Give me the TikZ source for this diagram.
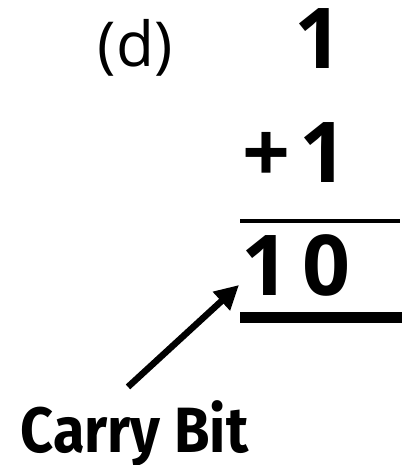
\documentclass[tikz,border=0pt]{standalone}
\usepackage{fontspec}
\setmainfont{Open Sans}
\newfontfamily\carryfont[FakeStretch=0.9]{Fira Sans}
\usetikzlibrary{arrows.meta,positioning,calc}
\tikzset{
  digit/.style={font=\fontsize{84}{84}\selectfont\bfseries, inner sep=0pt, anchor=base},
  tag/.style={font=\fontsize{62}{62}\selectfont, inner sep=0pt, anchor=base},
  carrylabel/.style={font=\carryfont\fontsize{64}{64}\selectfont\bfseries, inner sep=0pt, anchor=base},
  carryarrow/.style={-{Triangle[length=24pt,width=24pt]}, line width=6.5pt},
  thinrule/.style={line width=3.5pt},
  thickrule/.style={line width=11pt},
}

\begin{document}
\begin{tikzpicture}[x=1pt, y=-1pt]
\useasboundingbox (0,0) rectangle (402,465);
% --- the sum ---
\node[tag] (label) at (135,67) {(d)};
\node[digit] (top) at (318,69) {1};
\node[digit] (addend) at (295,182) {+\hspace{0.1em}1};
\draw[thinrule] (240,221) -- (400,221);
\node[digit] (sum) at (296,295) {1\,0};
\draw[thickrule] (240,317.5) -- (402,317.5);
% --- carry bit ---
\node[carrylabel] (carry) at (134.5,452) {Carry Bit};
\coordinate (tip) at (239,285);
\draw[carryarrow] ([xshift=-6.5pt,yshift=13pt]carry.north) -- (tip);
\end{tikzpicture}
\end{document}
